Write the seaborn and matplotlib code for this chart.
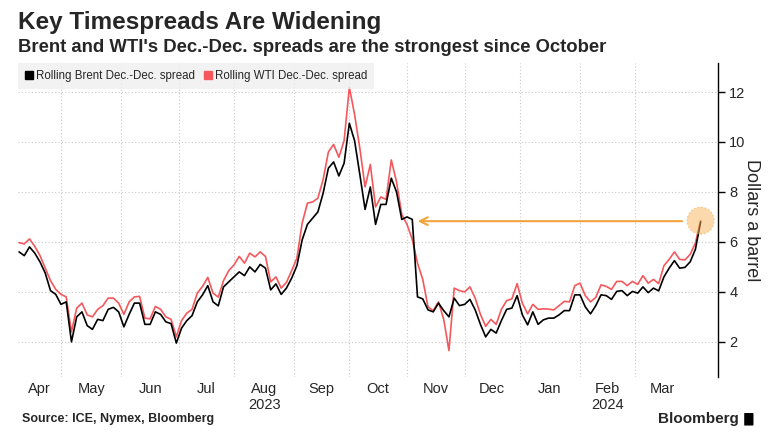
import numpy as np
import pandas as pd
import matplotlib.pyplot as plt
import matplotlib.patches as mpatches
import seaborn as sns

# ── Data (one value every 2 business days) ───────────────────────────────────
brent = [5.6, 5.45, 5.8, 5.55, 5.2, 4.75, 4.05, 3.9, 3.5, 3.6,
         2.0, 3.0, 3.2, 2.65, 2.5, 2.9, 2.85, 3.3, 3.38, 3.2,
         2.6, 3.1, 3.55, 3.55, 2.7, 2.7, 3.2, 3.1, 2.8, 2.73,
         1.95, 2.55, 2.85, 3.05, 3.6, 3.88, 4.25, 3.6, 3.44, 4.2,
         4.4, 4.6, 4.8, 4.65, 5.0, 4.8, 5.1, 4.95, 4.08, 4.32,
         3.9, 4.15, 4.55, 5.05, 6.08, 6.7, 6.95, 7.2, 7.95, 8.95,
         9.2, 8.64, 9.15, 10.75, 10.05, 8.7, 7.3, 8.2, 6.7, 7.5,
         7.5, 8.55, 8.0, 6.9, 7.0, 6.9, 3.8, 3.72, 3.28, 3.2,
         3.55, 3.25, 3.0, 3.75, 3.45, 3.5, 3.7, 3.28, 2.7, 2.2,
         2.5, 2.35, 2.85, 3.3, 3.35, 3.85, 3.08, 2.68, 3.2, 2.7,
         2.88, 2.95, 2.95, 3.08, 3.25, 3.25, 3.88, 3.88, 3.4, 3.12,
         3.45, 3.88, 3.85, 3.7, 4.02, 4.05, 3.85, 4.02, 3.95, 4.2,
         3.97, 4.15, 4.04, 4.6, 4.95, 5.25, 4.95, 4.98, 5.2, 5.7,
         6.8]
wti = [5.97, 5.92, 6.12, 5.82, 5.45, 4.95, 4.45, 4.1, 3.9, 3.8,
       2.4, 3.35, 3.55, 3.08, 3.0, 3.3, 3.45, 3.75, 3.75, 3.55,
       3.1, 3.6, 3.8, 3.82, 2.95, 2.92, 3.42, 3.3, 3.0, 2.9,
       2.2, 2.85, 3.15, 3.3, 3.95, 4.22, 4.58, 3.95, 3.79, 4.45,
       4.85, 5.08, 5.42, 5.15, 5.55, 5.4, 5.6, 5.42, 4.4, 4.6,
       4.15, 4.38, 4.85, 5.35, 6.75, 7.55, 7.6, 7.75, 8.5, 9.6,
       9.9, 9.39, 10.05, 12.19, 11.1, 9.75, 8.2, 9.1, 7.4, 7.8,
       7.7, 9.28, 8.4, 7.1, 6.7, 6.1, 5.15, 4.5, 3.4, 3.25,
       3.6, 2.9, 1.65, 4.15, 4.05, 4.0, 4.2, 3.75, 3.1, 2.62,
       2.9, 2.7, 3.3, 3.65, 3.72, 4.33, 3.55, 3.12, 3.5, 3.3,
       3.32, 3.31, 3.28, 3.45, 3.62, 3.6, 4.25, 4.35, 3.85, 3.6,
       3.78, 4.28, 4.22, 4.1, 4.42, 4.42, 4.25, 4.42, 4.3, 4.65,
       4.35, 4.5, 4.33, 5.05, 5.3, 5.6, 5.3, 5.28, 5.5, 5.95,
       6.85]
end_date = "2024-04-05"
series_names = ["Rolling Brent Dec.-Dec. spread", "Rolling WTI Dec.-Dec. spread"]
month_labels = ["Apr", "May", "Jun", "Jul", "Aug", "Sep",
                "Oct", "Nov", "Dec", "Jan", "Feb", "Mar"]
year_labels = {"Aug": "2023", "Feb": "2024"}
arrow_from = "2024-03-28"
arrow_to = "2023-11-06"
arrow_level = 6.83

# ── Config ────────────────────────────────────────────────────────────────────
sns.set_theme(style="white")
plt.rcParams["font.family"] = ["Liberation Sans", "DejaVu Sans"]

BLACK = "#000000"
RED = "#F4585C"
ORANGE = "#F2A43A"
ORIGIN = np.datetime64("2023-04-03", "D")


def bday(d):
    # business-day position, the chart skips weekends
    return np.busday_count(ORIGIN, np.asarray(d, dtype="datetime64[D]"))


dates = pd.bdate_range(end=end_date, periods=len(brent), freq="2B")
df = pd.DataFrame({"date": dates, series_names[0]: brent, series_names[1]: wti})
df = df.melt(id_vars="date", var_name="series", value_name="spread")
df["x"] = bday(df["date"].values)

fig = plt.figure(figsize=(7.72, 4.47), dpi=100)
ax = fig.add_axes([0.0233, 0.157, 0.907, 0.702])

sns.lineplot(data=df, x="x", y="spread", hue="series",
             hue_order=[series_names[1], series_names[0]],
             palette={series_names[0]: BLACK, series_names[1]: RED},
             linewidth=1.2, legend=False, ax=ax)

# ── Axes ─────────────────────────────────────────────────────────────────────
month_starts = pd.date_range("2023-04-01", periods=13, freq="MS")
mpos = bday(month_starts.values).astype(float)
x0 = bday(dates[:1].values)[0] - 0.4
ax.set_xlim(x0, 270.7)
ax.set_ylim(0.6, 13.16)

ax.set_xticks(mpos[1:12])
ax.set_xticklabels([])
ax.tick_params(axis="x", which="both", length=0)
mid = [(max(a, x0) + b) / 2 for a, b in zip(mpos[:-1], mpos[1:])]
for m, lab in zip(mid, month_labels):
    ax.text(m, -0.018, lab, transform=ax.get_xaxis_transform(),
            ha="center", va="top", fontsize=10.5)
    if lab in year_labels:
        ax.text(m, -0.068, year_labels[lab], transform=ax.get_xaxis_transform(),
                ha="center", va="top", fontsize=10.5)

ax.set_yticks([2, 4, 6, 8, 10, 12])
ax.yaxis.tick_right()
ax.yaxis.set_label_position("right")
ax.tick_params(axis="y", direction="out", length=5, width=1, color=BLACK,
               labelsize=10.5, pad=3, right=True, left=False)
ax.set_ylabel("Dollars a barrel", rotation=270, fontsize=13, labelpad=10)
ax.set_xlabel("")
ax.grid(True, axis="both", linestyle=(0, (1, 2)), color="#c8c8c8", linewidth=0.8)
for side in ["left", "top", "bottom"]:
    ax.spines[side].set_visible(False)
ax.spines["right"].set_color(BLACK)
ax.spines["right"].set_linewidth(1)

# ── Annotation: arrow + highlight circle ─────────────────────────────────────
ax.annotate("", xy=(bday(np.array([arrow_to]))[0], arrow_level),
            xytext=(bday(np.array([arrow_from]))[0], arrow_level),
            arrowprops=dict(arrowstyle="->", color=ORANGE, lw=1.5,
                            mutation_scale=14))
last_x = df.loc[df["series"] == series_names[1], "x"].iloc[-1]
ax.scatter([last_x], [wti[-1]], s=380, facecolor="#F8B55A", alpha=0.5,
           edgecolor=ORANGE, linestyle=":", linewidth=1, zorder=5)

# ── Legend ───────────────────────────────────────────────────────────────────
handles = [mpatches.Patch(color=BLACK, label=series_names[0]),
           mpatches.Patch(color=RED, label=series_names[1])]
leg = ax.legend(handles=handles, loc="upper left", bbox_to_anchor=(0, 1.0),
                ncol=2, frameon=True, fancybox=False, fontsize=8.3,
                handlelength=0.7, handleheight=0.7, handletextpad=0.3,
                columnspacing=0.7, borderaxespad=0, borderpad=0.6)
leg.get_frame().set_facecolor("#efefef")
leg.get_frame().set_edgecolor("none")

# ── Titles / footer ──────────────────────────────────────────────────────────
fig.text(0.0233, 0.975, "Key Timespreads Are Widening", fontsize=17.5,
         fontweight="bold", ha="left", va="top")
fig.text(0.0233, 0.912, "Brent and WTI's Dec.-Dec. spreads are the strongest since October",
         fontsize=13.3, fontweight="bold", ha="left", va="top")
fig.text(0.028, 0.062, "Source: ICE, Nymex, Bloomberg", fontsize=9,
         fontweight="bold", ha="left", va="center")
fig.text(0.957, 0.062, "Bloomberg", fontsize=11, fontweight="bold",
         ha="right", va="center")
fig.patches.append(mpatches.FancyBboxPatch((0.965, 0.049), 0.010, 0.026,
                                           boxstyle="round,pad=0.001",
                                           transform=fig.transFigure,
                                           facecolor=BLACK, edgecolor="none"))

plt.savefig("out.png", dpi=100)
plt.close()
